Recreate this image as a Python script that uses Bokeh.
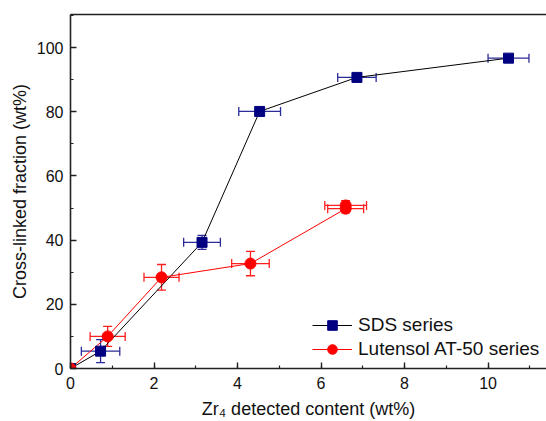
from bokeh.plotting import figure
from bokeh.models import (ColumnDataSource, Whisker, TeeHead, LinearAxis, SingleIntervalTicker,
                          FixedTicker, Legend, LegendItem, Range1d)
from bokeh.embed import file_html
from bokeh.resources import INLINE

# SDS series
sds_x = [0.0, 0.72, 3.15, 4.53, 6.86, 10.49]
sds_y = [0.0, 5.4, 39.3, 80.1, 90.7, 96.7]
sds_xerr = [0.0, 0.46, 0.44, 0.5, 0.46, 0.49]
sds_yerr = [0.0, 3.6, 2.2, 1.0, 1.0, 1.0]

# Lutensol AT-50 series
lut_x = [0.0, 0.89, 2.18, 4.31, 6.59, 6.59]
lut_y = [0.0, 10.0, 28.4, 32.7, 49.8, 50.8]
lut_xerr = [0.0, 0.42, 0.42, 0.45, 0.43, 0.5]
lut_yerr = [0.0, 3.1, 4.0, 3.8, 1.3, 1.5]

x_ticks_interval = 2
y_ticks_interval = 20

FONT = "Liberation Sans"

def err_source(x, y, xe, ye):
    return ColumnDataSource(dict(
        x=x, y=y,
        xl=[a - e for a, e in zip(x, xe)], xu=[a + e for a, e in zip(x, xe)],
        yl=[a - e for a, e in zip(y, ye)], yu=[a + e for a, e in zip(y, ye)],
    ))

sds_src = err_source(sds_x, sds_y, sds_xerr, sds_yerr)
lut_src = err_source(lut_x, lut_y, lut_xerr, lut_yerr)

p = figure(width=546, height=421, output_backend="svg", toolbar_location=None,
           x_range=Range1d(0, 11.4), y_range=Range1d(0, 110.3),
           x_axis_type=None, y_axis_type=None,
           min_border_left=70, min_border_right=0, min_border_top=14, min_border_bottom=53)
p.outline_line_color = None
p.grid.visible = False
p.background_fill_color = "white"
p.border_fill_color = "white"

def style_axis(ax):
    ax.axis_line_color = "#222222"
    ax.axis_line_width = 1.6
    ax.major_tick_line_color = "#222222"
    ax.minor_tick_line_color = "#222222"
    ax.major_tick_line_width = 1.4
    ax.minor_tick_line_width = 1.2
    ax.major_tick_in = 6
    ax.major_tick_out = 0
    ax.minor_tick_in = 3
    ax.minor_tick_out = 0
    ax.major_label_text_font = FONT
    ax.major_label_text_font_size = "16px"
    ax.major_label_text_color = "#111111"
    ax.axis_label_text_font = FONT
    ax.axis_label_text_font_size = "18px"
    ax.axis_label_text_font_style = "normal"
    ax.axis_label_text_color = "#111111"

xaxis = LinearAxis(ticker=SingleIntervalTicker(interval=x_ticks_interval, num_minor_ticks=2),
                   axis_label="Zr\u2084 detected content (wt%)")
style_axis(xaxis)
xaxis.major_label_standoff = 8
xaxis.axis_label_standoff = 7
p.add_layout(xaxis, "below")

yaxis = LinearAxis(ticker=SingleIntervalTicker(interval=y_ticks_interval, num_minor_ticks=2),
                   axis_label="Cross-linked fraction (wt%)")
style_axis(yaxis)
yaxis.major_label_standoff = 7
yaxis.axis_label_standoff = 4
p.add_layout(yaxis, "left")

top = LinearAxis(ticker=FixedTicker(ticks=[]))
top.axis_line_color = "#222222"
top.axis_line_width = 1.6
top.major_tick_in = 0
top.major_tick_out = 0
top.minor_tick_in = 0
top.minor_tick_out = 0
top.major_label_standoff = 0
p.add_layout(top, "above")

# connecting lines
sds_line = p.line("x", "y", source=sds_src, line_color="black", line_width=1)
lut_line = p.line("x", "y", source=lut_src, line_color="#ff0000", line_width=1)

# error bars
sds_err_col = "#2b2b9a"
lut_err_col = "#ff2020"
for src, col in ((sds_src, sds_err_col), (lut_src, lut_err_col)):
    wx = Whisker(source=src, base="y", lower="xl", upper="xu", dimension="width",
                 line_color=col, line_width=1.3,
                 upper_head=TeeHead(size=9, line_color=col, line_width=1.3),
                 lower_head=TeeHead(size=9, line_color=col, line_width=1.3))
    wy = Whisker(source=src, base="x", lower="yl", upper="yu", dimension="height",
                 line_color=col, line_width=1.3,
                 upper_head=TeeHead(size=9, line_color=col, line_width=1.3),
                 lower_head=TeeHead(size=9, line_color=col, line_width=1.3))
    p.add_layout(wx)
    p.add_layout(wy)

sds_mark = p.scatter("x", "y", source=sds_src, marker="square", size=10,
                     fill_color="#000080", line_color="#000080")
lut_mark = p.scatter("x", "y", source=lut_src, marker="circle", size=11,
                     fill_color="#ff0000", line_color="#ff0000")

legend = Legend(items=[
    LegendItem(label="SDS series", renderers=[sds_line, sds_mark]),
    LegendItem(label="Lutensol AT-50 series", renderers=[lut_line, lut_mark]),
], location=(242, 7))
legend.border_line_color = None
legend.background_fill_alpha = 0
legend.padding = 0
legend.margin = 0
legend.spacing = 0
legend.glyph_width = 40
legend.glyph_height = 24
legend.label_height = 24
legend.label_standoff = 6
legend.label_text_font = FONT
legend.label_text_font_size = "19px"
legend.label_text_color = "#111111"
p.add_layout(legend, "center")

open("out.html", "w").write(file_html(p, INLINE))
